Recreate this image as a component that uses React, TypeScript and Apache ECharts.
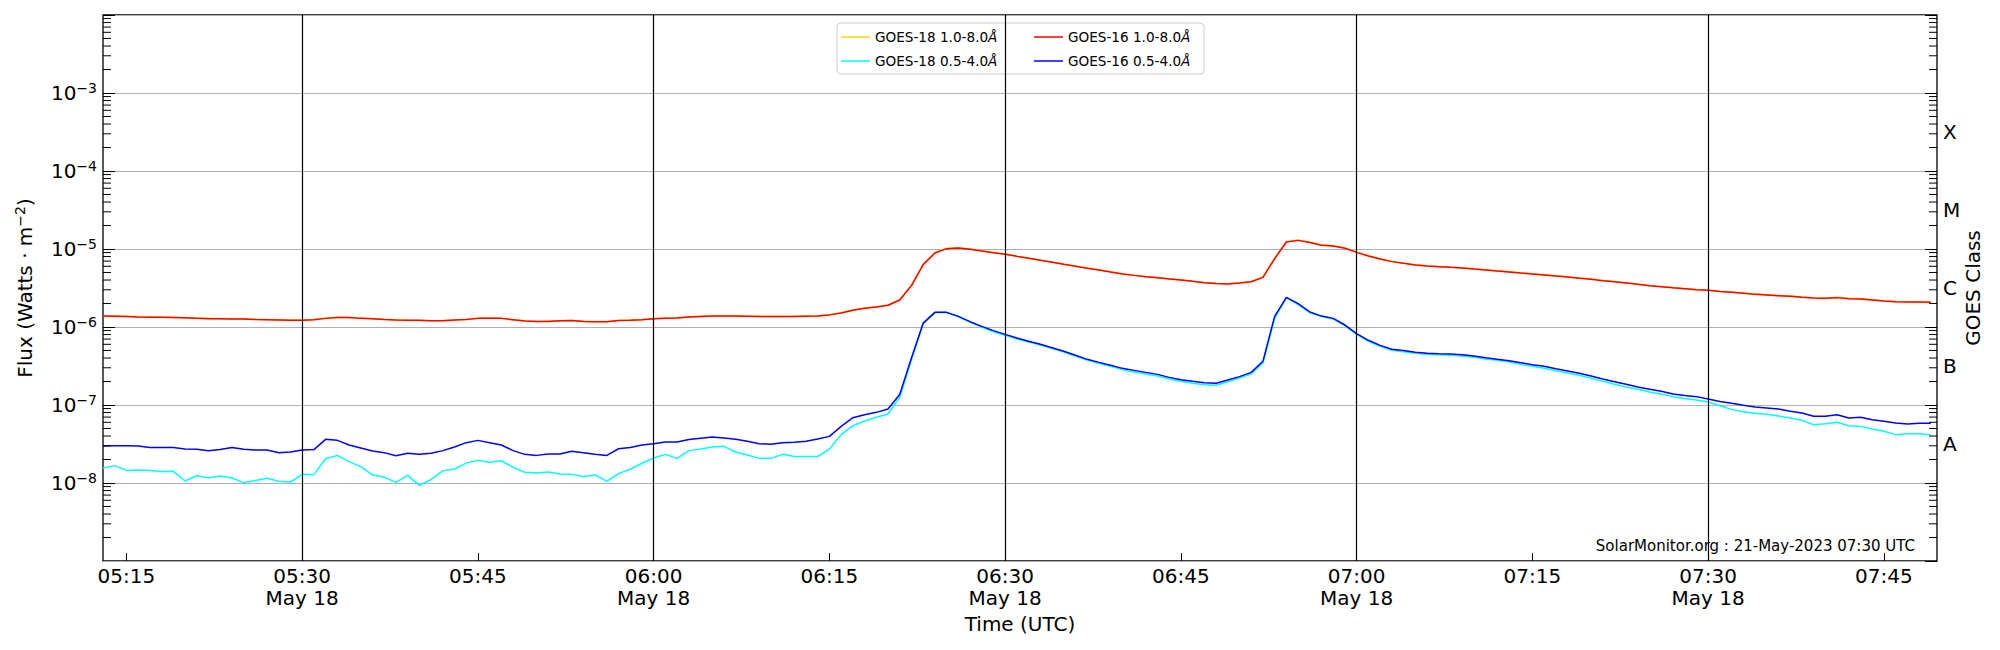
import React, { useEffect, useRef } from "react";
import * as echarts from "echarts";

// ---------- data ----------
// 1-minute cadence starting 05:13 UTC, 18 May 2023
const START_MINUTE = 313; // 05:13 as minutes of day
const END_MINUTE = 469.53; // right edge of plot (~07:49:32)

const seriesNames = [
  "GOES-18 1.0-8.0Å",
  "GOES-18 0.5-4.0Å",
  "GOES-16 1.0-8.0Å",
  "GOES-16 0.5-4.0Å",
];
const seriesColors = ["#FFD700", "#00FFFF", "#FF0000", "#0000FF"];

const g18Long = [
  1.39e-6, 1.38e-6, 1.37e-6, 1.35e-6, 1.34e-6, 1.33e-6, 1.32e-6, 1.31e-6, 1.30e-6, 1.29e-6,
  1.28e-6, 1.28e-6, 1.27e-6, 1.26e-6, 1.25e-6, 1.24e-6, 1.23e-6, 1.22e-6, 1.25e-6, 1.30e-6,
  1.33e-6, 1.32e-6, 1.30e-6, 1.28e-6, 1.26e-6, 1.24e-6, 1.22e-6, 1.21e-6, 1.20e-6, 1.21e-6,
  1.23e-6, 1.26e-6, 1.30e-6, 1.30e-6, 1.29e-6, 1.24e-6, 1.20e-6, 1.18e-6, 1.19e-6, 1.20e-6,
  1.21e-6, 1.19e-6, 1.18e-6, 1.18e-6, 1.21e-6, 1.23e-6, 1.25e-6, 1.28e-6, 1.30e-6, 1.31e-6,
  1.35e-6, 1.37e-6, 1.38e-6, 1.39e-6, 1.38e-6, 1.37e-6, 1.37e-6, 1.36e-6, 1.36e-6, 1.37e-6,
  1.38e-6, 1.39e-6, 1.44e-6, 1.52e-6, 1.65e-6, 1.75e-6, 1.81e-6, 1.91e-6, 2.24e-6, 3.42e-6,
  6.35e-6, 8.95e-6, 1.02e-5, 1.04e-5, 1.00e-5, 9.50e-6, 9.05e-6, 8.60e-6, 8.10e-6,
  7.63e-6, 7.20e-6, 6.79e-6, 6.40e-6, 6.04e-6, 5.69e-6, 5.41e-6, 5.10e-6, 4.81e-6, 4.62e-6,
  4.45e-6, 4.31e-6, 4.15e-6, 4.03e-6, 3.87e-6, 3.72e-6, 3.62e-6, 3.58e-6, 3.68e-6, 3.84e-6,
  4.38e-6, 7.60e-6, 1.24e-5, 1.30e-5, 1.22e-5, 1.13e-5, 1.10e-5, 1.03e-5, 9.12e-6, 8.18e-6,
  7.48e-6, 6.93e-6, 6.59e-6, 6.28e-6, 6.08e-6, 5.97e-6, 5.85e-6, 5.74e-6, 5.57e-6, 5.41e-6,
  5.25e-6, 5.10e-6, 4.95e-6, 4.81e-6, 4.67e-6, 4.54e-6, 4.40e-6, 4.24e-6, 4.11e-6, 3.96e-6,
  3.83e-6, 3.68e-6, 3.54e-6, 3.41e-6, 3.31e-6, 3.21e-6, 3.12e-6, 3.03e-6, 2.97e-6, 2.88e-6,
  2.80e-6, 2.72e-6, 2.64e-6, 2.59e-6, 2.54e-6, 2.49e-6, 2.42e-6, 2.37e-6, 2.35e-6, 2.40e-6,
  2.33e-6, 2.31e-6, 2.24e-6, 2.17e-6, 2.13e-6, 2.11e-6, 2.11e-6, 2.09e-6,
];

const g18Short = [
  1.56e-8, 1.67e-8, 1.45e-8, 1.47e-8, 1.45e-8, 1.40e-8, 1.41e-8, 1.06e-8, 1.24e-8, 1.17e-8,
  1.23e-8, 1.16e-8, 1.01e-8, 1.08e-8, 1.15e-8, 1.05e-8, 1.03e-8, 1.29e-8, 1.28e-8, 2.05e-8,
  2.26e-8, 1.88e-8, 1.62e-8, 1.27e-8, 1.19e-8, 1.02e-8, 1.25e-8, 9.33e-9, 1.11e-8, 1.43e-8,
  1.51e-8, 1.80e-8, 1.95e-8, 1.84e-8, 1.93e-8, 1.59e-8, 1.37e-8, 1.34e-8, 1.38e-8, 1.30e-8,
  1.29e-8, 1.21e-8, 1.27e-8, 1.05e-8, 1.32e-8, 1.50e-8, 1.79e-8, 2.09e-8, 2.33e-8, 2.07e-8,
  2.60e-8, 2.73e-8, 2.90e-8, 2.95e-8, 2.50e-8, 2.29e-8, 2.07e-8, 2.07e-8, 2.33e-8, 2.18e-8,
  2.18e-8, 2.18e-8, 2.73e-8, 4.17e-8, 5.43e-8, 6.24e-8, 6.95e-8, 7.67e-8, 1.25e-7, 3.81e-7,
  1.10e-6, 1.53e-6, 1.53e-6, 1.36e-6, 1.16e-6, 1.00e-6, 8.71e-7, 7.82e-7, 7.02e-7,
  6.43e-7, 5.88e-7, 5.32e-7, 4.78e-7, 4.25e-7, 3.77e-7, 3.42e-7, 3.13e-7, 2.84e-7, 2.65e-7,
  2.50e-7, 2.35e-7, 2.15e-7, 2.01e-7, 1.90e-7, 1.82e-7, 1.79e-7, 1.99e-7, 2.22e-7, 2.52e-7,
  3.45e-7, 1.29e-6, 2.38e-6, 1.95e-6, 1.53e-6, 1.36e-6, 1.27e-6, 1.04e-6, 8.05e-7, 6.55e-7,
  5.65e-7, 5.02e-7, 4.83e-7, 4.60e-7, 4.46e-7, 4.42e-7, 4.34e-7, 4.25e-7, 4.08e-7, 3.89e-7,
  3.74e-7, 3.56e-7, 3.32e-7, 3.13e-7, 2.95e-7, 2.75e-7, 2.57e-7, 2.40e-7, 2.20e-7, 2.01e-7,
  1.84e-7, 1.70e-7, 1.59e-7, 1.47e-7, 1.37e-7, 1.28e-7, 1.21e-7, 1.16e-7, 1.09e-7, 9.80e-8,
  8.79e-8, 8.22e-8, 7.82e-8, 7.59e-8, 7.23e-8, 6.81e-8, 6.36e-8, 5.59e-8, 5.75e-8, 6.00e-8,
  5.43e-8, 5.32e-8, 4.92e-8, 4.60e-8, 4.17e-8, 4.29e-8, 4.29e-8, 4.17e-8,
];

const g16Long = [
  1.38e-6, 1.37e-6, 1.36e-6, 1.34e-6, 1.33e-6, 1.33e-6, 1.32e-6, 1.31e-6, 1.29e-6, 1.28e-6,
  1.28e-6, 1.27e-6, 1.27e-6, 1.25e-6, 1.24e-6, 1.23e-6, 1.22e-6, 1.22e-6, 1.24e-6, 1.29e-6,
  1.32e-6, 1.32e-6, 1.29e-6, 1.28e-6, 1.25e-6, 1.23e-6, 1.22e-6, 1.22e-6, 1.20e-6, 1.20e-6,
  1.23e-6, 1.25e-6, 1.29e-6, 1.29e-6, 1.29e-6, 1.24e-6, 1.19e-6, 1.18e-6, 1.18e-6, 1.20e-6,
  1.21e-6, 1.18e-6, 1.17e-6, 1.17e-6, 1.21e-6, 1.22e-6, 1.24e-6, 1.28e-6, 1.29e-6, 1.30e-6,
  1.34e-6, 1.36e-6, 1.38e-6, 1.38e-6, 1.38e-6, 1.37e-6, 1.36e-6, 1.36e-6, 1.36e-6, 1.36e-6,
  1.37e-6, 1.38e-6, 1.43e-6, 1.51e-6, 1.64e-6, 1.74e-6, 1.80e-6, 1.90e-6, 2.22e-6, 3.39e-6,
  6.30e-6, 8.88e-6, 1.01e-5, 1.03e-5, 9.90e-6, 9.42e-6, 8.98e-6, 8.55e-6, 8.05e-6,
  7.59e-6, 7.16e-6, 6.75e-6, 6.36e-6, 6.00e-6, 5.65e-6, 5.38e-6, 5.07e-6, 4.78e-6, 4.59e-6,
  4.42e-6, 4.29e-6, 4.12e-6, 4.01e-6, 3.85e-6, 3.70e-6, 3.60e-6, 3.56e-6, 3.66e-6, 3.81e-6,
  4.33e-6, 7.52e-6, 1.23e-5, 1.29e-5, 1.21e-5, 1.12e-5, 1.09e-5, 1.02e-5, 9.06e-6, 8.13e-6,
  7.44e-6, 6.89e-6, 6.55e-6, 6.24e-6, 6.05e-6, 5.94e-6, 5.82e-6, 5.71e-6, 5.54e-6, 5.38e-6,
  5.22e-6, 5.07e-6, 4.92e-6, 4.78e-6, 4.64e-6, 4.51e-6, 4.37e-6, 4.21e-6, 4.08e-6, 3.93e-6,
  3.81e-6, 3.66e-6, 3.52e-6, 3.39e-6, 3.29e-6, 3.19e-6, 3.10e-6, 3.01e-6, 2.95e-6, 2.86e-6,
  2.78e-6, 2.70e-6, 2.62e-6, 2.57e-6, 2.52e-6, 2.47e-6, 2.40e-6, 2.35e-6, 2.33e-6, 2.38e-6,
  2.31e-6, 2.29e-6, 2.22e-6, 2.15e-6, 2.11e-6, 2.09e-6, 2.09e-6, 2.07e-6,
];

const g16Short = [
  2.98e-8, 3.01e-8, 3.01e-8, 2.98e-8, 2.86e-8, 2.86e-8, 2.86e-8, 2.73e-8, 2.70e-8, 2.60e-8,
  2.68e-8, 2.86e-8, 2.70e-8, 2.65e-8, 2.65e-8, 2.45e-8, 2.50e-8, 2.65e-8, 2.68e-8, 3.63e-8,
  3.52e-8, 3.07e-8, 2.81e-8, 2.57e-8, 2.45e-8, 2.24e-8, 2.40e-8, 2.33e-8, 2.40e-8, 2.60e-8,
  2.90e-8, 3.29e-8, 3.52e-8, 3.29e-8, 3.07e-8, 2.60e-8, 2.33e-8, 2.26e-8, 2.36e-8, 2.36e-8,
  2.55e-8, 2.45e-8, 2.33e-8, 2.26e-8, 2.75e-8, 2.86e-8, 3.07e-8, 3.19e-8, 3.35e-8, 3.35e-8,
  3.60e-8, 3.74e-8, 3.89e-8, 3.78e-8, 3.63e-8, 3.42e-8, 3.19e-8, 3.13e-8, 3.29e-8, 3.32e-8,
  3.42e-8, 3.66e-8, 3.96e-8, 5.32e-8, 6.88e-8, 7.52e-8, 8.05e-8, 8.89e-8, 1.36e-7, 4.01e-7,
  1.12e-6, 1.54e-6, 1.54e-6, 1.37e-6, 1.17e-6, 1.02e-6, 8.98e-7, 8.05e-7, 7.23e-7,
  6.55e-7, 6.00e-7, 5.43e-7, 4.88e-7, 4.34e-7, 3.85e-7, 3.52e-7, 3.23e-7, 2.95e-7, 2.78e-7,
  2.62e-7, 2.47e-7, 2.26e-7, 2.11e-7, 2.01e-7, 1.93e-7, 1.90e-7, 2.09e-7, 2.31e-7, 2.62e-7,
  3.63e-7, 1.37e-6, 2.40e-6, 1.99e-6, 1.56e-6, 1.38e-6, 1.29e-6, 1.06e-6, 8.22e-7, 6.75e-7,
  5.82e-7, 5.18e-7, 4.98e-7, 4.73e-7, 4.60e-7, 4.55e-7, 4.51e-7, 4.42e-7, 4.25e-7, 4.04e-7,
  3.85e-7, 3.70e-7, 3.49e-7, 3.29e-7, 3.13e-7, 2.92e-7, 2.73e-7, 2.55e-7, 2.35e-7, 2.15e-7,
  1.99e-7, 1.84e-7, 1.70e-7, 1.59e-7, 1.50e-7, 1.38e-7, 1.32e-7, 1.28e-7, 1.19e-7, 1.11e-7,
  1.05e-7, 9.90e-8, 9.42e-8, 9.16e-8, 8.89e-8, 8.30e-8, 7.89e-8, 7.16e-8, 7.16e-8, 7.52e-8,
  6.81e-8, 6.95e-8, 6.49e-8, 6.18e-8, 5.88e-8, 5.71e-8, 5.82e-8, 5.82e-8,
];

// x tick positions (minutes of day) and vertical marker lines
const xTickMinutes = [315, 330, 345, 360, 375, 390, 405, 420, 435, 450, 465];
const markerMinutes = [330, 360, 390, 420, 450];
const dateLabel = "May 18";

// labelled decades on the flux axis
const labelledExponents = [-8, -7, -6, -5, -4, -3];

// GOES class labels on the right (log10 position of each class band centre)
const classLetters = ["A", "B", "C", "M", "X"];
const classPositions = [-7.5, -6.5, -5.5, -4.5, -3.5];

const decadeExponents = [-9, -8, -7, -6, -5, -4, -3];
const minorMultipliers = [2, 3, 4, 5, 6, 7, 8, 9];

const footerText = "SolarMonitor.org : 21-May-2023 07:30 UTC";

const FONT = "DejaVu Sans";

function pad2(n: number) {
  return (n < 10 ? "0" : "") + n;
}

export default function App() {
  const ref = useRef<HTMLDivElement>(null);

  useEffect(() => {
    if (!ref.current) return;
    const chart = echarts.init(ref.current, null, { renderer: "svg" });

    const times = g16Long.map((_, i) => START_MINUTE + i);
    const toPairs = (arr: number[]) => arr.map((v, i) => [times[i], v]);
    const dataSets = [g18Long, g18Short, g16Long, g16Short];

    const minorTicks: number[][] = [];
    decadeExponents.forEach((e) => {
      minorMultipliers.forEach((m) => {
        minorTicks.push([START_MINUTE, m * Math.pow(10, e)]);
      });
    });

    const lineSeries: any[] = dataSets.map((arr, k) => ({
      name: seriesNames[k],
      type: "line",
      data: toPairs(arr),
      showSymbol: false,
      symbol: "none",
      lineStyle: { color: seriesColors[k], width: 1.5 },
      itemStyle: { color: seriesColors[k] },
      emphasis: { disabled: true },
      silent: true,
      z: 2,
      markLine:
        k === 0
          ? {
              silent: true,
              symbol: ["none", "none"],
              label: { show: false },
              lineStyle: { color: "#000", width: 1.2, type: "solid" },
              emphasis: { disabled: true },
              data: markerMinutes.map((m) => ({ xAxis: m })),
            }
          : undefined,
    }));

    const tickSeries = {
      type: "custom",
      xAxisIndex: 0,
      yAxisIndex: 0,
      silent: true,
      clip: false,
      z: 3,
      data: minorTicks,
      encode: { x: 0, y: 1 },
      renderItem: (params: any, api: any) => {
        const p = api.coord([api.value(0), api.value(1)]);
        const cs = params.coordSys;
        const y = p[1];
        return {
          type: "group",
          children: [
            {
              type: "line",
              shape: { x1: cs.x, y1: y, x2: cs.x + 8, y2: y },
              style: { stroke: "#000", lineWidth: 1 },
            },
            {
              type: "line",
              shape: { x1: cs.x + cs.width - 8, y1: y, x2: cs.x + cs.width, y2: y },
              style: { stroke: "#000", lineWidth: 1 },
            },
          ],
        };
      },
    };

    const legendCommon: any = {
      orient: "vertical",
      padding: 0,
      itemWidth: 29,
      itemHeight: 1.5,
      itemGap: 8,
      itemTextGap: 11,
      icon: "rect",
      selectedMode: false,
      itemStyle: { borderWidth: 0 },
      formatter: (name: string) => name.replace("Å", "{i|Å}"),
      textStyle: {
        fontFamily: FONT,
        fontSize: 13.6,
        color: "#000",
        lineHeight: 16,
        rich: {
          i: { fontFamily: FONT, fontSize: 13.6, fontStyle: "italic", lineHeight: 16, color: "#000" },
        },
      },
      z: 5,
    };

    const option: any = {
      animation: false,
      backgroundColor: "#fff",
      grid: {
        left: 103,
        right: 63,
        top: 15,
        bottom: 89,
        show: true,
        borderColor: "#000",
        borderWidth: 1.3,
        backgroundColor: "transparent",
        containLabel: false,
        outerBoundsMode: "none",
      },
      legend: [
        { ...legendCommon, left: 841, top: 29, data: [seriesNames[0], seriesNames[1]] },
        { ...legendCommon, left: 1034, top: 29, data: [seriesNames[2], seriesNames[3]] },
      ],
      graphic: [
        {
          type: "rect",
          shape: { x: 837, y: 23, width: 367, height: 51, r: 4 },
          style: { fill: "rgba(255,255,255,0.8)", stroke: "#cccccc", lineWidth: 1 },
          z: 4,
          silent: true,
        },
        {
          type: "text",
          x: 1915,
          y: 553,
          style: {
            text: footerText,
            fontFamily: FONT,
            fontSize: 15,
            fill: "#000",
            align: "right",
            verticalAlign: "bottom",
          },
          z: 4,
          silent: true,
        },
      ],
      xAxis: {
        type: "value",
        min: START_MINUTE,
        max: END_MINUTE,
        axisLine: { show: false },
        axisTick: {
          show: true,
          inside: true,
          length: 8,
          customValues: xTickMinutes,
          lineStyle: { color: "#000", width: 1 },
        },
        axisLabel: {
          customValues: xTickMinutes,
          fontFamily: FONT,
          fontSize: 20,
          color: "#000",
          lineHeight: 22,
          margin: 4,
          formatter: (v: number) => {
            const h = Math.floor(v / 60);
            const m = Math.round(v - h * 60);
            const t = pad2(h) + ":" + pad2(m);
            return m % 30 === 0 ? t + "\n" + dateLabel : t;
          },
        },
        splitLine: { show: false },
        name: "Time (UTC)",
        nameLocation: "middle",
        nameGap: 53,
        nameMoveOverlap: false,
        nameTextStyle: { fontFamily: FONT, fontSize: 20, color: "#000" },
      },
      yAxis: [
        {
          type: "log",
          logBase: 10,
          min: 1e-9,
          max: 1e-2,
          interval: 1,
          axisLine: { show: false },
          axisTick: { show: true, inside: true, length: 12, lineStyle: { color: "#000", width: 1 } },
          axisLabel: {
            showMinLabel: false,
            showMaxLabel: false,
            margin: 6,
            formatter: (v: number) => {
              const e = Math.round(Math.log10(v));
              if (labelledExponents.indexOf(e) < 0) return "";
              return "{b|10}{s|−" + Math.abs(e) + "}";
            },
            rich: {
              b: { fontFamily: FONT, fontSize: 20, lineHeight: 24, color: "#000" },
              s: { fontFamily: FONT, fontSize: 14, lineHeight: 14, verticalAlign: "top", color: "#000" },
            },
          },
          splitLine: { show: true, lineStyle: { color: "#b0b0b0", width: 1 } },
          name: "Flux (Watts · m{s|−2})",
          nameLocation: "middle",
          nameRotate: 90,
          nameGap: 66,
          nameMoveOverlap: false,
          nameTextStyle: {
            fontFamily: FONT,
            fontSize: 20,
            lineHeight: 24,
            color: "#000",
            rich: {
              s: { fontFamily: FONT, fontSize: 14, lineHeight: 14, verticalAlign: "top", color: "#000" },
            },
          },
        },
        {
          type: "value",
          position: "right",
          min: -9,
          max: -2,
          interval: 1,
          axisLine: { show: false },
          axisTick: { show: true, inside: true, length: 12, lineStyle: { color: "#000", width: 1 } },
          axisLabel: {
            customValues: classPositions,
            margin: 6,
            fontFamily: FONT,
            fontSize: 20,
            color: "#000",
            formatter: (v: number) => {
              const idx = classPositions.indexOf(v);
              return idx >= 0 ? classLetters[idx] : "";
            },
          },
          splitLine: { show: false },
          name: "GOES Class",
          nameLocation: "middle",
          nameRotate: 90,
          nameGap: 26,
          nameMoveOverlap: false,
          nameTextStyle: { fontFamily: FONT, fontSize: 20, color: "#000" },
        },
      ],
      series: [...lineSeries, tickSeries],
    };

    chart.setOption(option);
    return () => {
      chart.dispose();
    };
  }, []);

  return (
    <div
      ref={ref}
      style={{ position: "fixed", left: 0, top: 0, width: 2000, height: 650, background: "#fff" }}
    />
  );
}
